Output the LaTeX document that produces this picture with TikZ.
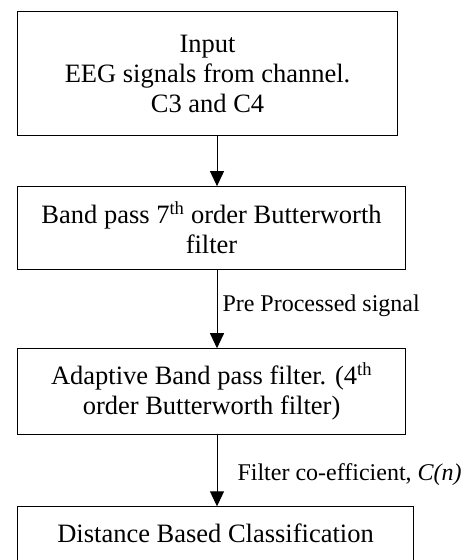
\documentclass[tikz,border=0pt]{standalone}
\usepackage{fontspec}
\setmainfont{Liberation Serif}
\usetikzlibrary{positioning, arrows.meta}

\begin{document}
\begin{tikzpicture}[
    x=1pt, y=1pt,
    box/.style={rectangle, draw, line width=1.1pt, align=center, inner sep=2pt,
                font=\fontsize{26.5}{30}\selectfont, anchor=north west},
    arrow/.style={-{Triangle[length=15pt, width=14pt]}, line width=1pt},
    lbl/.style={font=\fontsize{24}{28}\selectfont, inner sep=0pt, anchor=west},
]
\useasboundingbox (0,0) rectangle (464,-560);
\clip (0,0) rectangle (464,-560);

% ============ boxes ============
\node[box, minimum width=380pt, minimum height=124pt] (input) at (17,-11)
    {Input\\EEG signals from channel.\\C3 and C4};
\node[box, minimum width=388pt, minimum height=83pt, below=50pt of input.south west, anchor=north west] (bandpass)
    {Band pass 7\textsuperscript{th} order Butterworth\\filter};
\node[box, minimum width=388pt, minimum height=86pt, below=78pt of bandpass.south west, anchor=north west] (adaptive)
    {Adaptive Band pass filter. (4\textsuperscript{th}\\order Butterworth filter)};
\node[box, minimum width=396pt, text height=34pt, text depth=50pt, below=71pt of adaptive.south west, anchor=north west] (classify)
    {Distance Based Classification};

% ============ arrows ============
\coordinate (ax) at (217,0);
\draw[arrow] (input.south -| ax) -- (bandpass.north -| ax);
\draw[arrow] (bandpass.south -| ax) -- node[lbl, pos=0.45, xshift=5pt] (pre) {Pre Processed signal} (adaptive.north -| ax);
\draw[arrow] (adaptive.south -| ax) -- node[lbl, pos=0.56, xshift=20pt] (coef) {Filter co-efficient, \textit{C(n)}} (classify.north -| ax);

\end{tikzpicture}
\end{document}
